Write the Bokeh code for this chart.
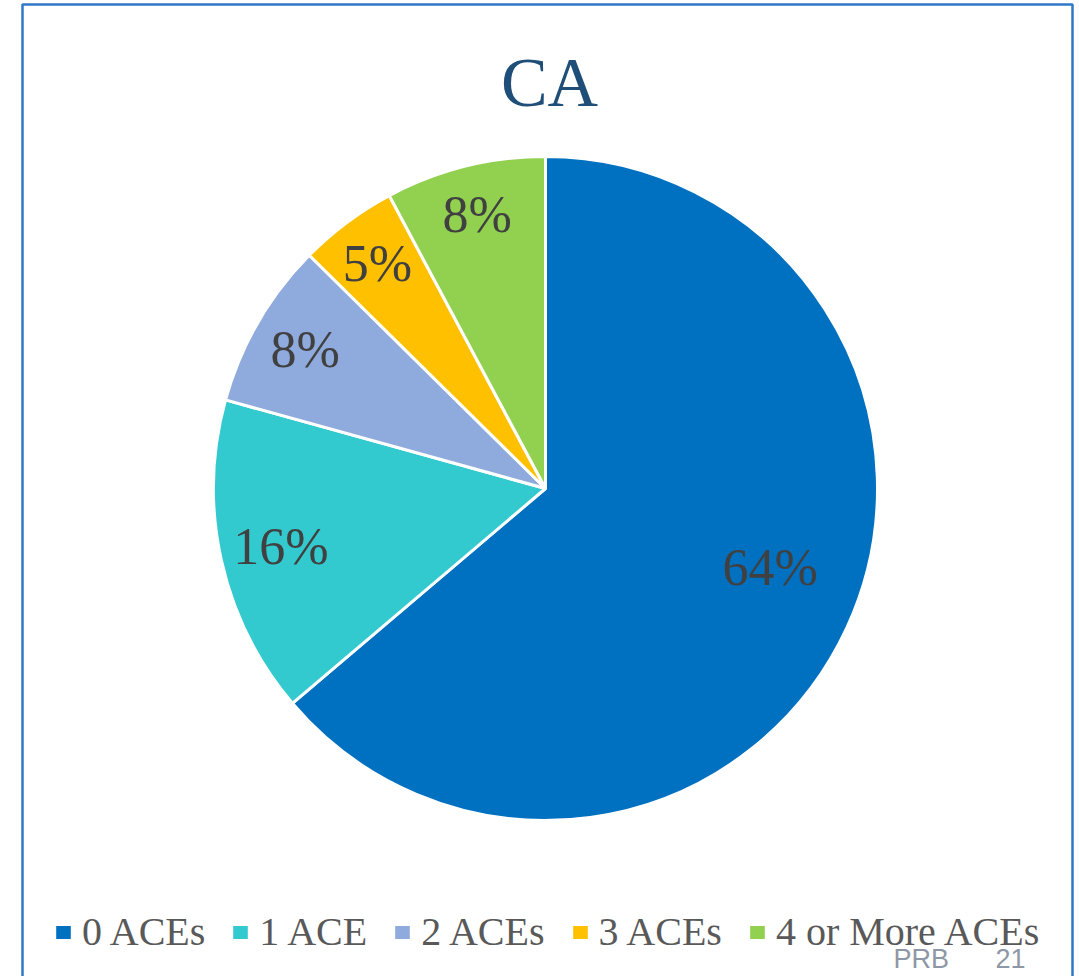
import math
from bokeh.plotting import figure
from bokeh.models import Range1d, Label, Legend, LegendItem, ColumnDataSource
from bokeh.core.properties import value
from bokeh.embed import file_html
from bokeh.resources import INLINE

# ---- data ----
categories = ["0 ACEs", "1 ACE", "2 ACEs", "3 ACEs", "4 or More ACEs"]
shares = [63.8, 15.5, 8.1, 4.8, 7.8]
share_labels = ["64%", "16%", "8%", "5%", "8%"]
colors = ["#0070C0", "#33CACF", "#8FAADC", "#FFC000", "#92D050"]
title_text = "CA"

# ---- layout (image pixel coordinates, y measured from the top) ----
W, H = 1079, 976
CX, CY_IMG, R = 545, 488, 332
LABEL_RADIUS = [0.716, 0.816, 0.836, 0.847, 0.85]
LABEL_NUDGE = [(9, -21), (0, 0), (0, 0), (0, 0), (0, 0)]
SERIF = "Liberation Serif"
SANS = "Liberation Sans"

def fy(y_img):
    return H - y_img

total = sum(shares)
starts, ends, lx, ly = [], [], [], []
cum = 0.0
for i, s in enumerate(shares):
    a0 = math.pi / 2 - 2 * math.pi * cum / total
    cum += s
    a1 = math.pi / 2 - 2 * math.pi * cum / total
    starts.append(a0)
    ends.append(a1)
    mid = (a0 + a1) / 2
    rr = R * LABEL_RADIUS[i]
    dx, dy = LABEL_NUDGE[i]
    lx.append(CX + rr * math.cos(mid) + dx)
    ly.append(fy(CY_IMG) + rr * math.sin(mid) - dy)

src = ColumnDataSource(dict(cat=categories, share=shares, start=starts, end=ends,
                            color=colors, lx=lx, ly=ly, lab=share_labels))

p = figure(width=W, height=H, x_range=Range1d(0, W), y_range=Range1d(0, H),
           output_backend="svg", toolbar_location=None, min_border=0,
           x_axis_type=None, y_axis_type=None)
p.grid.visible = False
p.outline_line_color = None
p.background_fill_color = "white"
p.border_fill_color = "white"
p.styles = {"position": "absolute", "left": "0px", "top": "0px"}

# frame border
p.quad(left=22, right=1072, top=fy(4), bottom=-40, fill_alpha=0,
       line_color="#2F78C8", line_width=2.5)

wr = p.wedge(x=CX, y=fy(CY_IMG), radius=R, start_angle="start", end_angle="end",
             direction="clock", fill_color="color", line_color="white",
             line_width=3, source=src)

p.text(x="lx", y="ly", text="lab", source=src, text_align="center",
       text_baseline="middle", text_font=value(SERIF),
       text_font_size="52px", text_color="#404040")

p.add_layout(Label(x=549, y=fy(82), text=title_text, text_align="center",
                   text_baseline="middle", text_font=SERIF,
                   text_font_size="70px", text_color="#1F4E79"))

items = [LegendItem(label=c, renderers=[wr], index=i) for i, c in enumerate(categories)]
legend = Legend(items=items, orientation="horizontal", location=(52, 21),
                label_text_font=SERIF, label_text_font_size="40px",
                label_text_color="#595959", glyph_width=22, glyph_height=20,
                label_standoff=8, spacing=24, padding=0, margin=0,
                border_line_color=None, background_fill_alpha=0)
p.add_layout(legend)

p.add_layout(Label(x=893, y=fy(958), text="PRB", text_align="left",
                   text_baseline="middle", text_font=SANS,
                   text_font_size="27px", text_color="#8D97A5"))
p.add_layout(Label(x=1025, y=fy(958), text="21", text_align="right",
                   text_baseline="middle", text_font=SANS,
                   text_font_size="27px", text_color="#8D97A5"))

open("out.html", "w").write(file_html(p, INLINE))
